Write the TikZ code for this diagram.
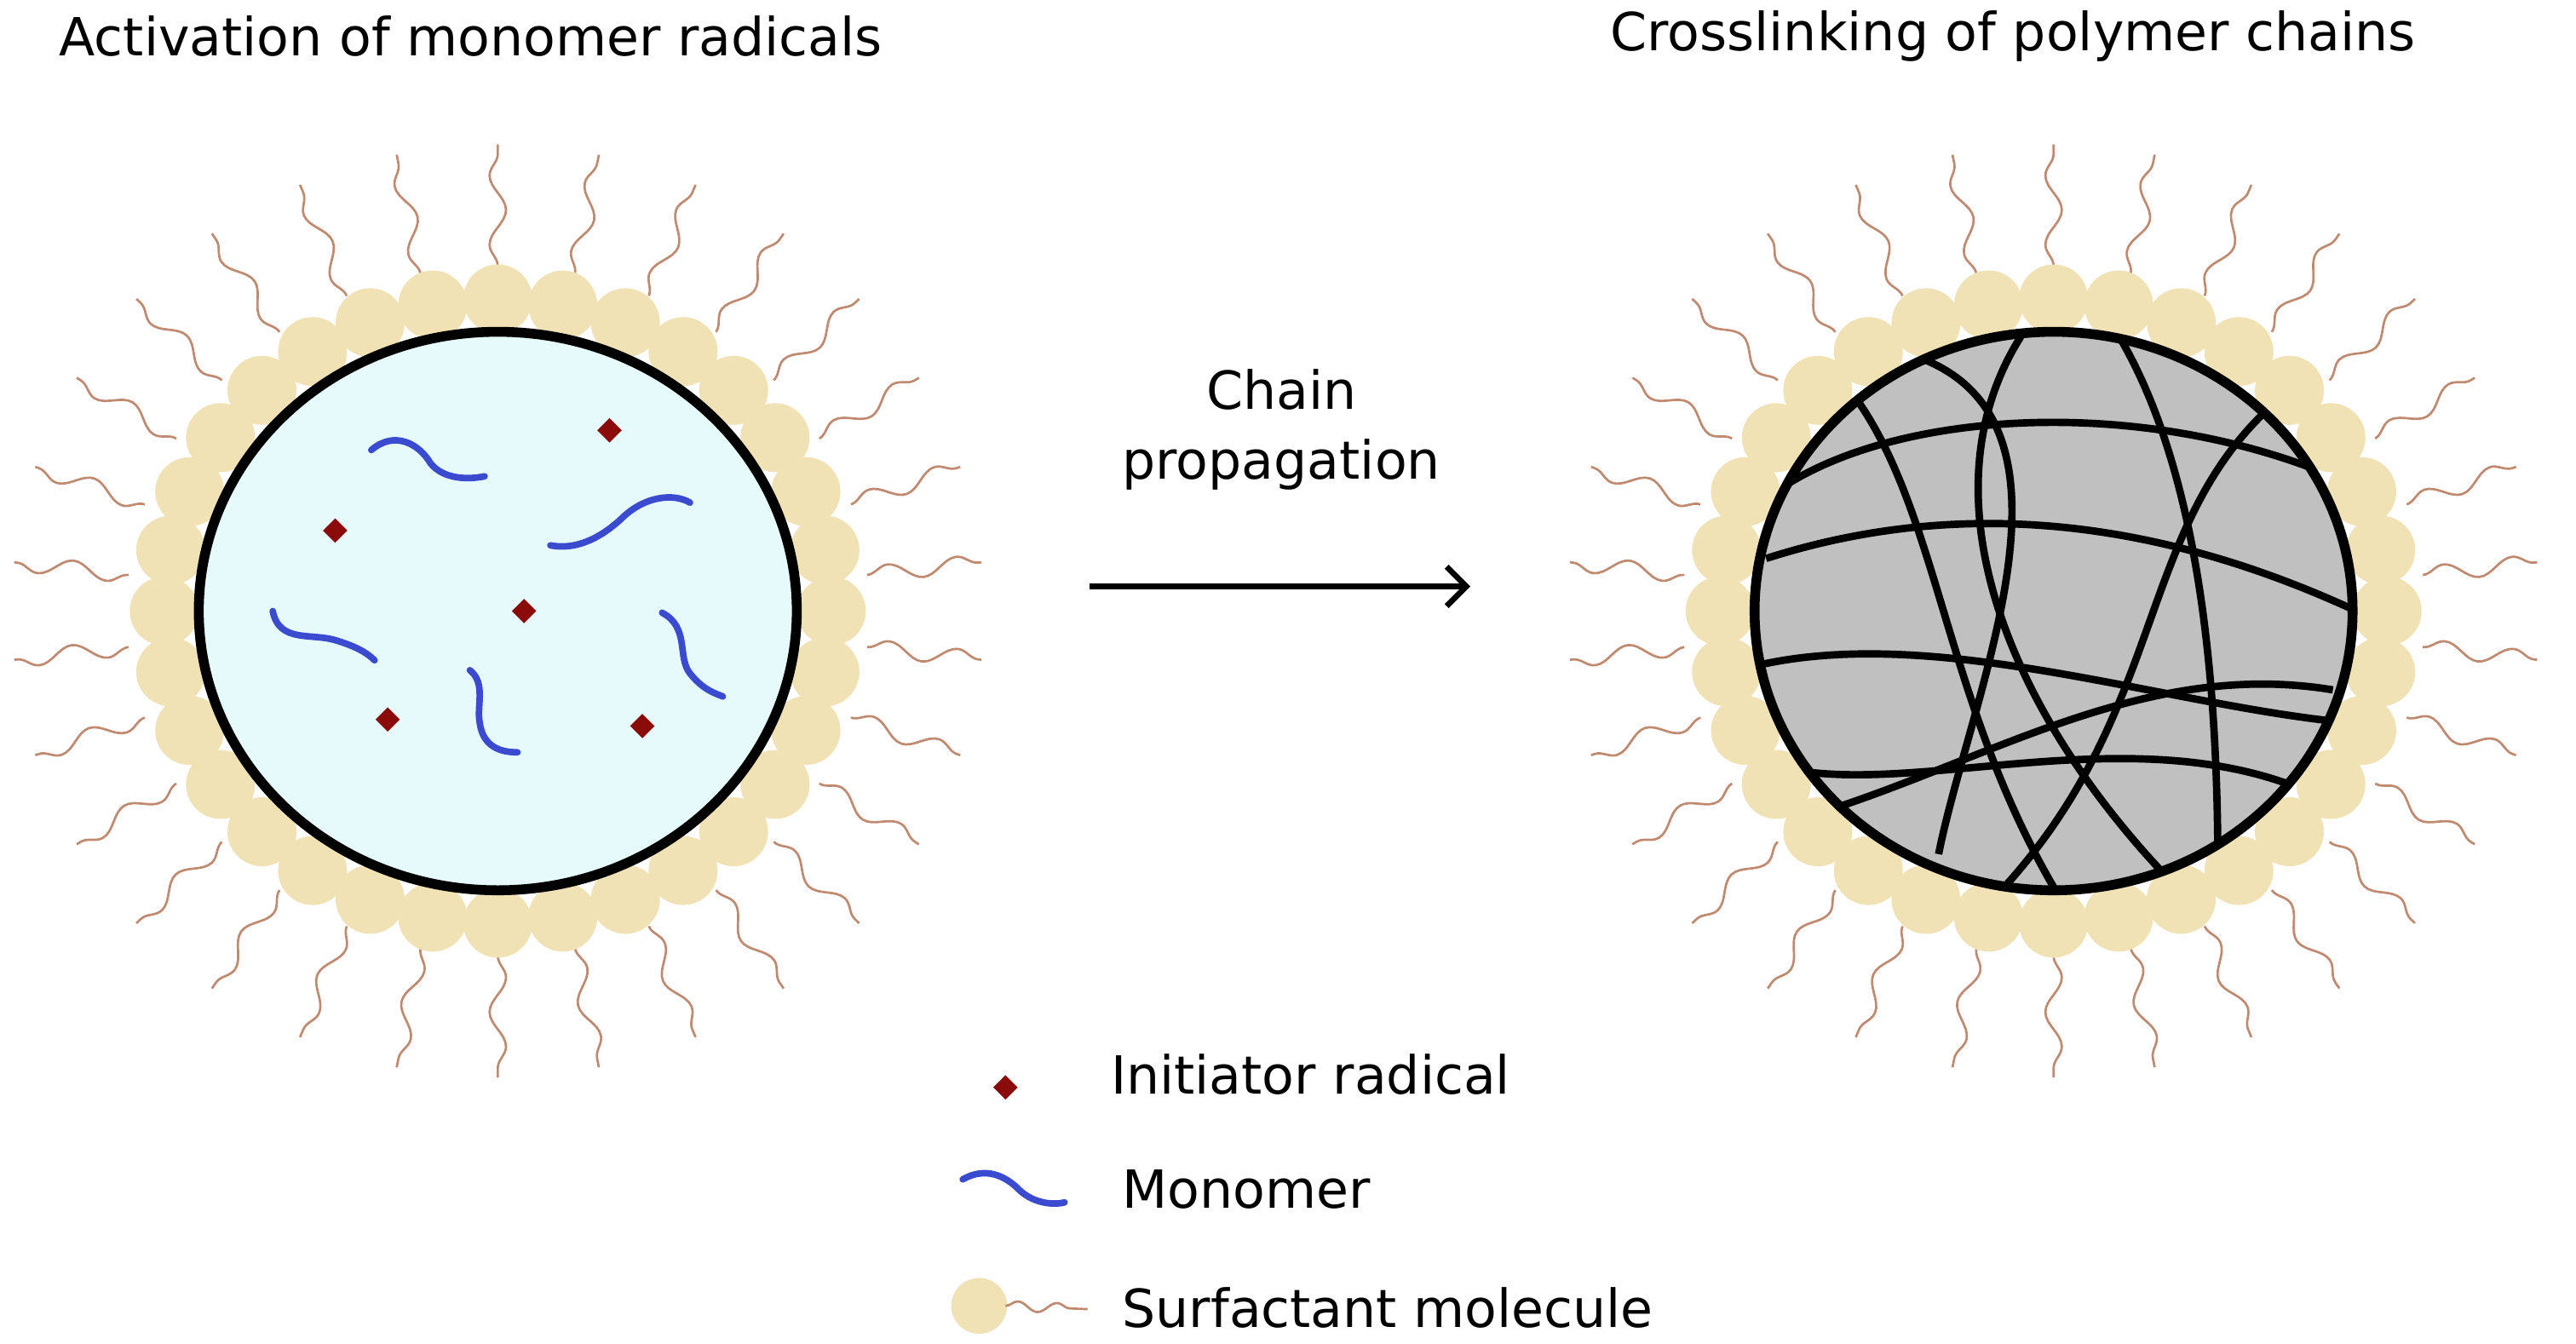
\documentclass[tikz,border=0pt]{standalone}
\usepackage{fontspec}
\setmainfont{DejaVu Sans}
\usetikzlibrary{decorations.pathmorphing,arrows.meta,shapes.geometric}
\definecolor{bead}{HTML}{F0E2B4}
\definecolor{tail}{HTML}{C08A70}
\definecolor{core}{HTML}{E6FAFC}
\definecolor{mono}{HTML}{3B4BD0}
\definecolor{rad}{HTML}{8B0A0A}
\definecolor{gel}{HTML}{C0C0C0}
\tikzset{
 tl/.style={draw=tail,line width=1.4pt,decorate,decoration={snake,amplitude=5pt,segment length=42pt}},
 bd/.style={fill=bead},
 mn/.style={draw=mono,line width=4pt,line cap=round},
 rd/.style={fill=rad,diamond,inner sep=0pt,minimum size=15pt},
 ch/.style={line width=4.5pt},
 lbl/.style={font=\fontsize{32}{38}\selectfont,anchor=west,inner sep=0pt},
}
\newcommand{\droplet}[2]{%
 \foreach \a in {0,12,...,359}{\draw[tl] ({#1+226*cos(\a+6)},{#2+210*sin(\a+6)}) -- ({#1+296*cos(\a+6)},{#2+284*sin(\a+6)});}
 \foreach \a in {0,11.25,...,359}{\fill[bd] ({#1+203*cos(\a)},{#2+190*sin(\a)}) circle (21);}
}
\begin{document}
\begin{tikzpicture}[x=1pt,y=-1pt]
\useasboundingbox (0,0) rectangle (1568,818);
\node[lbl] (t1) at (36,22) {Activation of monomer radicals};
\node[lbl] (t2) at (980,22) {Crosslinking of polymer chains};
\droplet{303}{372}
\droplet{1250}{372}
\draw[fill=core,line width=6pt] (303,372) ellipse (182 and 170);
\node[rd] (r1) at (371,262) {};
\node[rd] (r2) at (204,323) {};
\node[rd] (r3) at (319,372) {};
\node[rd] (r4) at (236,438) {};
\node[rd] (r5) at (391,442) {};
\draw[mn] (226,274) .. controls (240,262) and (255,270) .. (262,282) .. controls (270,292) and (285,292) .. (295,290);
\draw[mn] (335,332) .. controls (350,335) and (365,328) .. (378,316) .. controls (392,302) and (410,300) .. (420,306);
\draw[mn] (166,372) .. controls (170,392) and (190,385) .. (205,390) .. controls (218,394) and (224,398) .. (228,402);
\draw[mn] (286,408) .. controls (296,416) and (290,430) .. (292,440) .. controls (294,455) and (305,458) .. (315,458);
\draw[mn] (403,373) .. controls (420,382) and (412,400) .. (420,410) .. controls (428,420) and (435,422) .. (440,424);
\draw[fill=gel,line width=6pt] (1250,372) ellipse (182 and 170);
\begin{scope}
\clip (1250,372) ellipse (182 and 170);
\draw[ch] (1080,300) .. controls (1150,250) and (1300,240) .. (1420,290);
\draw[ch] (1075,340) .. controls (1200,300) and (1320,320) .. (1430,370);
\draw[ch] (1070,405) .. controls (1180,380) and (1320,430) .. (1430,440);
\draw[ch] (1090,500) .. controls (1200,470) and (1300,400) .. (1420,420);
\draw[ch] (1100,470) .. controls (1180,480) and (1300,440) .. (1400,480);
\draw[ch] (1120,230) .. controls (1180,300) and (1180,420) .. (1250,540);
\draw[ch] (1230,205) .. controls (1170,300) and (1220,430) .. (1320,535);
\draw[ch] (1290,205) .. controls (1340,290) and (1350,420) .. (1350,530);
\draw[ch] (1385,245) .. controls (1300,320) and (1320,430) .. (1220,540);
\draw[ch] (1160,215) .. controls (1280,250) and (1200,420) .. (1180,520);
\end{scope}
\node[font=\fontsize{32}{38}\selectfont] (c1) at (780,237) {Chain};
\node[font=\fontsize{32}{38}\selectfont] (c2) at (780,283) {propagation};
\coordinate (a1) at (663,357); \coordinate (a2) at (895,357);
\draw[line width=3.5pt,-{Straight Barb[length=12pt,width=24pt]}] (a1) -- (a2);
\node[rd] (lr) at (612,662) {};
\node[lbl] (l1) at (676,654) {Initiator radical};
\draw[mn] (586,718) .. controls (600,710) and (612,716) .. (620,724) .. controls (628,732) and (640,734) .. (648,732);
\node[lbl] (l2) at (683,724) {Monomer};
\fill[bd] (596,795) circle (17);
\draw[tl,decoration={snake,amplitude=3pt,segment length=24pt}] (612,795) -- (662,797);
\node[lbl] (l3) at (683,796) {Surfactant molecule};
\end{tikzpicture}
\end{document}
